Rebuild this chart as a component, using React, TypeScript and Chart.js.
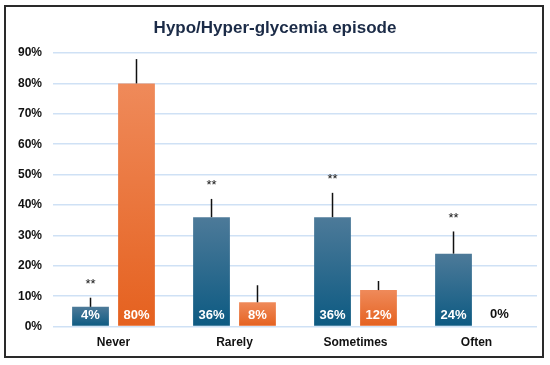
import React, { useEffect, useRef } from "react";
import { Chart, registerables } from "chart.js";
Chart.register(...registerables);

const title = "Hypo/Hyper-glycemia episode";
const categories = ["Never", "Rarely", "Sometimes", "Often"];
const blueValues = [6.5, 36, 36, 24];
const blueLabels = ["4%", "36%", "36%", "24%"];
const blueErrUp = [3, 6, 8, 7.3];
const orangeValues = [80, 8, 12, 0];
const orangeLabels = ["80%", "8%", "12%", "0%"];
const orangeErrUp = [8, 5.6, 3, 0];
const significance = ["**", "**", "**", "**"];
const yMax = 90;
const yStep = 10;

const FONT = "'Liberation Sans', Arial, sans-serif";

function gradient(ctx: any, top: string, bottom: string) {
  const chart = ctx.chart;
  const y = chart.scales && chart.scales.y;
  if (!y || ctx.type !== "data") return bottom;
  const v = ctx.raw as number;
  const y0 = y.getPixelForValue(0);
  const y1 = y.getPixelForValue(v);
  if (!isFinite(y0) || !isFinite(y1) || y0 === y1) return bottom;
  const g = chart.ctx.createLinearGradient(0, y1, 0, y0);
  g.addColorStop(0, top);
  g.addColorStop(1, bottom);
  return g;
}

const overlay = {
  id: "overlay",
  afterDatasetsDraw(chart: any) {
    const ctx = chart.ctx;
    const yS = chart.scales.y;
    const sets = [
      { vals: blueValues, errs: blueErrUp, labels: blueLabels },
      { vals: orangeValues, errs: orangeErrUp, labels: orangeLabels },
    ];
    sets.forEach((s, d) => {
      const meta = chart.getDatasetMeta(d);
      meta.data.forEach((bar: any, i: number) => {
        const v = s.vals[i];
        const e = s.errs[i];
        const topY = yS.getPixelForValue(v + e);
        if (e > 0) {
          ctx.save();
          ctx.strokeStyle = "#111";
          ctx.lineWidth = 1.5;
          ctx.beginPath();
          ctx.moveTo(bar.x, bar.y);
          ctx.lineTo(bar.x, topY);
          ctx.stroke();
          ctx.restore();
        }
        ctx.save();
        ctx.font = `bold 13px ${FONT}`;
        ctx.textAlign = "center";
        ctx.textBaseline = "middle";
        ctx.fillStyle = v > 0 ? "#ffffff" : "#111111";
        ctx.fillText(s.labels[i], bar.x, bar.base - (v > 0 ? 10 : 12));
        ctx.restore();
        if (d === 0) {
          ctx.save();
          ctx.font = `13px ${FONT}`;
          ctx.textAlign = "center";
          ctx.textBaseline = "middle";
          ctx.fillStyle = "#111";
          ctx.fillText(significance[i], bar.x, topY - 13);
          ctx.restore();
        }
      });
    });
  },
  afterDraw(chart: any) {
    const ctx = chart.ctx;
    ctx.save();
    ctx.font = `bold 17px ${FONT}`;
    ctx.fillStyle = "#1b2b47";
    ctx.textAlign = "center";
    ctx.textBaseline = "middle";
    ctx.fillText(title, 275, 28);
    ctx.strokeStyle = "#2a2a2a";
    ctx.lineWidth = 2;
    ctx.strokeRect(5, 6, 538, 351);
    ctx.restore();
  },
};

export default function App() {
  const ref = useRef<HTMLCanvasElement | null>(null);
  useEffect(() => {
    document.body.style.margin = "0";
    const canvas = ref.current;
    if (!canvas) return;
    const chart = new Chart(canvas, {
      type: "bar",
      data: {
        labels: categories,
        datasets: [
          {
            label: "A",
            data: blueValues,
            backgroundColor: (c: any) => gradient(c, "#4d7a99", "#0c5a82"),
            barPercentage: 0.8,
            categoryPercentage: 0.76,
          },
          {
            label: "B",
            data: orangeValues,
            backgroundColor: (c: any) => gradient(c, "#ef8a5a", "#e5611f"),
            barPercentage: 0.8,
            categoryPercentage: 0.76,
          },
        ],
      },
      options: {
        responsive: false,
        animation: false,
        devicePixelRatio: 1,
        layout: { padding: { top: 53, right: 13, bottom: 6, left: 0 } },
        plugins: {
          legend: { display: false },
          title: { display: false },
          tooltip: { enabled: false },
        },
        scales: {
          x: {
            grid: { display: false, drawTicks: false },
            border: { display: false },
            ticks: {
              color: "#111",
              padding: 9,
              font: { family: FONT, size: 12, weight: "bold" },
            },
          },
          y: {
            min: 0,
            max: yMax,
            afterFit: (s: any) => {
              s.width = 53;
            },
            grid: { color: "#cfe1f5", lineWidth: 1.5, drawTicks: false },
            border: { display: false },
            ticks: {
              stepSize: yStep,
              padding: 11,
              color: "#111",
              font: { family: FONT, size: 12, weight: "bold" },
              callback: (v: any) => v + "%",
            },
          },
        },
      },
      plugins: [overlay],
    });
    return () => chart.destroy();
  }, []);
  return (
    <div style={{ width: 550, height: 365 }}>
      <canvas ref={ref} width={550} height={365} style={{ width: 550, height: 365, display: "block" }} />
    </div>
  );
}
